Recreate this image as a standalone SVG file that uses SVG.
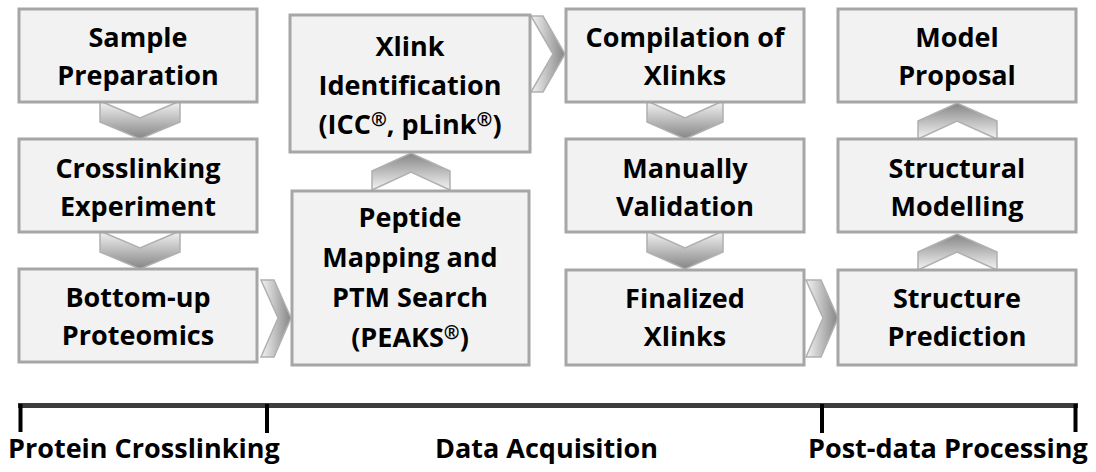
<svg xmlns="http://www.w3.org/2000/svg" width="1096" height="472" viewBox="0 0 1096 472">
<style>
.box{fill:#f2f2f2;stroke:#a6a6a6;stroke-width:3}
.t{font-family:"Open Sans","Liberation Sans",sans-serif;font-weight:bold;font-size:27px;fill:#000;text-anchor:middle}
.lbl{font-family:"Open Sans","Liberation Sans",sans-serif;font-weight:bold;font-size:27px;fill:#000}
.r{font-size:19px}
.chev{stroke:#b0b0b0;stroke-width:1.5;stroke-linejoin:miter}
.tick{stroke:#000;stroke-width:4}
</style>
<defs>
<linearGradient id="gDown" x1="0" y1="0" x2="0" y2="1"><stop offset="0" stop-color="#f4f4f4"/><stop offset="1" stop-color="#858585"/></linearGradient>
<linearGradient id="gUp" x1="0" y1="1" x2="0" y2="0"><stop offset="0" stop-color="#f4f4f4"/><stop offset="1" stop-color="#858585"/></linearGradient>
<linearGradient id="gRight" x1="0" y1="0" x2="1" y2="0"><stop offset="0" stop-color="#f4f4f4"/><stop offset="1" stop-color="#858585"/></linearGradient>
</defs>
<g id="connectors">
<polygon class="chev" fill="url(#gDown)" points="100,101 140,118 180,101 180,122 140,139 100,122"/>
<polygon class="chev" fill="url(#gDown)" points="100,231 140,248 180,231 180,252 140,269 100,252"/>
<polygon class="chev" fill="url(#gRight)" points="261,280 274,280 291,318 274,357 261,357 278,318"/>
<polygon class="chev" fill="url(#gUp)" points="372,190 372,171 411,153 450,171 450,190 411,172"/>
<polygon class="chev" fill="url(#gRight)" points="531,16 543,16 565,54 543,92 531,92 553,54"/>
<polygon class="chev" fill="url(#gDown)" points="647,101 685,118 723,101 723,122 685,139 647,122"/>
<polygon class="chev" fill="url(#gDown)" points="647,231 685,248 723,231 723,252 685,269 647,252"/>
<polygon class="chev" fill="url(#gRight)" points="806,280 821,280 838,318 821,357 806,357 823,318"/>
<polygon class="chev" fill="url(#gUp)" points="918,270 918,252 957,234 997,252 997,270 957,252"/>
<polygon class="chev" fill="url(#gUp)" points="918,139 918,121 957,103 997,121 997,139 957,121"/>
</g>
<g id="n1"><rect class="box" x="19" y="9" width="238" height="93"/><text class="t" x="138" y="47">Sample</text><text class="t" x="138" y="85">Preparation</text></g>
<g id="n2"><rect class="box" x="19" y="139" width="238" height="93"/><text class="t" x="138" y="178">Crosslinking</text><text class="t" x="138" y="216">Experiment</text></g>
<g id="n3"><rect class="box" x="19" y="269" width="238" height="93"/><text class="t" x="138" y="307">Bottom-up</text><text class="t" x="138" y="345">Proteomics</text></g>
<g id="n4"><rect class="box" x="292" y="191" width="237" height="174"/><text class="t" x="410" y="227">Peptide</text><text class="t" x="410" y="267">Mapping and</text><text class="t" x="410" y="307">PTM Search</text><text class="t" x="410" y="347">(PEAKS<tspan class="r" dy="-8">®</tspan><tspan dy="8">)</tspan></text></g>
<g id="n5"><rect class="box" x="290" y="15" width="240" height="137"/><text class="t" x="410" y="56">Xlink</text><text class="t" x="410" y="95">Identification</text><text class="t" x="410" y="134">(ICC<tspan class="r" dy="-8">®</tspan><tspan dy="8">, pLink</tspan><tspan class="r" dy="-8">®</tspan><tspan dy="8">)</tspan></text></g>
<g id="n6"><rect class="box" x="566" y="9" width="238" height="93"/><text class="t" x="685" y="47">Compilation of</text><text class="t" x="685" y="85">Xlinks</text></g>
<g id="n7"><rect class="box" x="566" y="139" width="238" height="93"/><text class="t" x="685" y="178">Manually</text><text class="t" x="685" y="216">Validation</text></g>
<g id="n8"><rect class="box" x="566" y="270" width="238" height="95"/><text class="t" x="685" y="308">Finalized</text><text class="t" x="685" y="346">Xlinks</text></g>
<g id="n9"><rect class="box" x="838" y="270" width="238" height="95"/><text class="t" x="957" y="308">Structure</text><text class="t" x="957" y="346">Prediction</text></g>
<g id="n10"><rect class="box" x="838" y="139" width="238" height="93"/><text class="t" x="957" y="178">Structural</text><text class="t" x="957" y="216">Modelling</text></g>
<g id="n11"><rect class="box" x="838" y="9" width="238" height="93"/><text class="t" x="957" y="47">Model</text><text class="t" x="957" y="85">Proposal</text></g>
<g id="timeline">
<line x1="18" y1="405.5" x2="1078" y2="405.5" stroke="#3c3c3c" stroke-width="5"/>
<line class="tick" x1="20.5" y1="404" x2="20.5" y2="432"/>
<line class="tick" x1="267" y1="404" x2="267" y2="433"/>
<line class="tick" x1="822" y1="404" x2="822" y2="433"/>
<line class="tick" x1="1075.5" y1="404" x2="1075.5" y2="432"/>
<text class="lbl" x="8" y="458">Protein Crosslinking</text>
<text class="lbl" x="435" y="458">Data Acquisition</text>
<text class="lbl" x="808" y="458">Post-data Processing</text>
</g>
</svg>
